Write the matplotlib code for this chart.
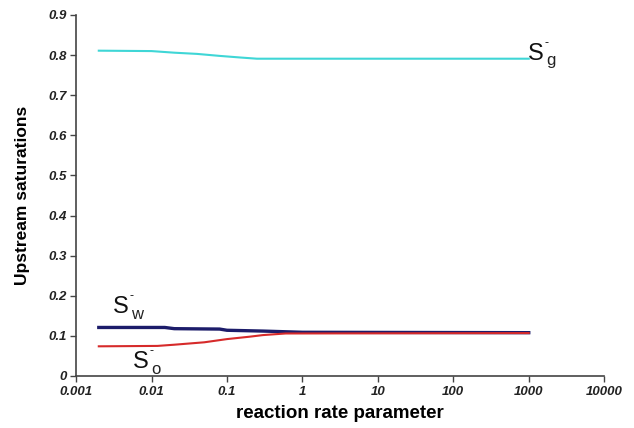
import matplotlib
matplotlib.use("Agg")
import matplotlib.pyplot as plt

# Data
sg_x = [0.002, 0.01, 0.02, 0.04, 0.08, 0.15, 0.25, 1000]
sg_y = [0.811, 0.810, 0.806, 0.803, 0.798, 0.794, 0.791, 0.791]
sw_x = [0.002, 0.015, 0.02, 0.08, 0.1, 0.3, 1, 1000]
sw_y = [0.121, 0.121, 0.118, 0.117, 0.114, 0.112, 0.109, 0.108]
so_x = [0.002, 0.012, 0.02, 0.05, 0.1, 0.2, 0.3, 0.6, 1000]
so_y = [0.074, 0.075, 0.078, 0.084, 0.092, 0.098, 0.102, 0.106, 0.107]
x_ticks = [0.001, 0.01, 0.1, 1, 10, 100, 1000, 10000]
x_ticklabels = ["0.001", "0.01", "0.1", "1", "10", "100", "1000", "10000"]
y_ticks = [0, 0.1, 0.2, 0.3, 0.4, 0.5, 0.6, 0.7, 0.8, 0.9]
y_ticklabels = ["0", "0.1", "0.2", "0.3", "0.4", "0.5", "0.6", "0.7", "0.8", "0.9"]
curve_labels = ["w", "o", "g"]
label_pos = [(0.0031, 0.157), (0.0057, 0.020), (970, 0.788)]

plt.rcParams['font.family'] = ['Liberation Sans', 'DejaVu Sans']

fig = plt.figure(figsize=(6.34, 4.28), dpi=100)
ax = fig.add_axes([0.12, 0.1215, 0.833, 0.8435])

ax.plot(sg_x, sg_y, color='#3fd6d6', lw=1.5)
ax.plot(sw_x, sw_y, color='#1c1c6a', lw=2.4)
ax.plot(so_x, so_y, color='#d62a2a', lw=1.5)

ax.set_xscale('log')
ax.set_xlim(0.001, 10000)
ax.set_ylim(0, 0.9)
ax.set_xticks(x_ticks)
ax.set_xticklabels(x_ticklabels, fontsize=9.5, fontweight='bold', style='italic', color='#222222')
ax.minorticks_off()
ax.set_yticks(y_ticks)
ax.set_yticklabels(y_ticklabels, fontsize=9.5, fontweight='bold', style='italic', color='#222222')
ax.tick_params(direction='out', length=4, width=1, color='#444444', pad=3)

for s in ['top', 'right']:
    ax.spines[s].set_visible(False)
for s in ['left', 'bottom']:
    ax.spines[s].set_color('#444444')
    ax.spines[s].set_linewidth(1.2)

ax.set_xlabel('reaction rate parameter', fontsize=13.5, fontweight='bold', labelpad=5)
ax.set_ylabel('Upstream saturations', fontsize=12.5, fontweight='bold', labelpad=13)

for sub, (lx, ly) in zip(curve_labels, label_pos):
    ax.annotate('S', xy=(lx, ly), xycoords='data', fontsize=17, color='#111111',
                ha='left', va='baseline')
    ax.annotate('-', xy=(lx, ly), xycoords='data', xytext=(12, 10), textcoords='offset points',
                fontsize=9, color='#111111', ha='left', va='baseline')
    ax.annotate(sub, xy=(lx, ly), xycoords='data', xytext=(13, -4), textcoords='offset points',
                fontsize=12, color='#222222', ha='left', va='baseline')

fig.savefig('out.png', dpi=100)
